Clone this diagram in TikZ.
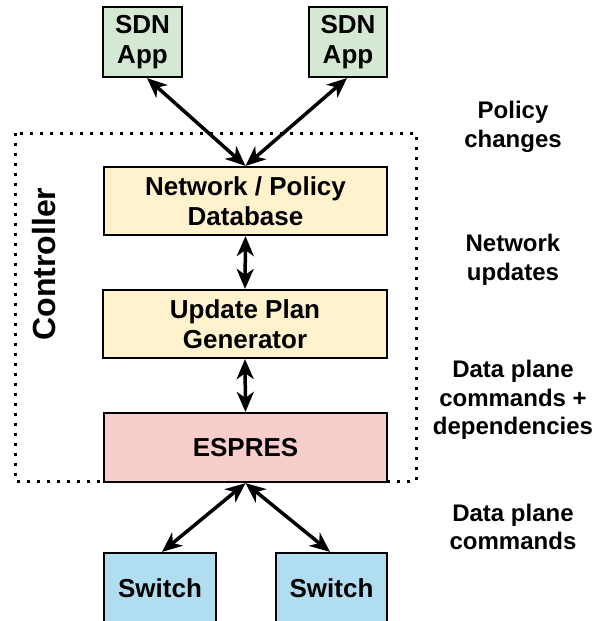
\documentclass[tikz,border=0pt]{standalone}
\usepackage{fontspec}
\setmainfont{Liberation Sans}
\usetikzlibrary{arrows.meta,calc}
\definecolor{gfill}{HTML}{D5E8D4}
\definecolor{yfill}{HTML}{FFF2CC}
\definecolor{rfill}{HTML}{F8CECC}
\definecolor{bfill}{HTML}{B1DDF0}
\begin{document}
\begin{tikzpicture}[x=1pt,y=-1pt,
  box/.style={draw=black, line width=2.2pt, inner sep=0pt, align=center,
    font=\bfseries\fontsize{26}{30}\selectfont},
  lbl/.style={inner sep=0pt, align=center, font=\bfseries\fontsize{24}{28.5}\selectfont},
  arr/.style={line width=3.5pt, {Stealth[length=20pt,width=17pt,inset=6pt]}-{Stealth[length=20pt,width=17pt,inset=6pt]}},
  ctrl/.style={draw=black, line width=3pt, dash pattern=on 3pt off 7pt}
]
\useasboundingbox (0,0) rectangle (592,621);

% dotted controller region
\draw[ctrl] (15,133) rectangle (416,481);

% nodes
\node[box, fill=gfill, minimum width=79pt, minimum height=70pt] (sdnL) at (142.5,42) {SDN\\App};
\node[box, fill=gfill, minimum width=78pt, minimum height=70pt] (sdnR) at (348,42) {SDN\\App};
\node[box, fill=yfill, minimum width=283pt, minimum height=68pt] (db) at (245.5,201) {Network / Policy\\Database};
\node[box, fill=yfill, minimum width=284pt, minimum height=68pt] (upg) at (245,324) {Update Plan\\Generator};
\node[box, fill=rfill, minimum width=283pt, minimum height=69pt] (esp) at (245.5,447.5) {ESPRES};
\node[box, fill=bfill, minimum width=112pt, minimum height=70pt] (swL) at (160,588) {Switch};
\node[box, fill=bfill, minimum width=111pt, minimum height=70pt] (swR) at (331.5,588) {Switch};

% controller label
\node[inner sep=0pt, rotate=90, font=\bfseries\fontsize{32}{36}\selectfont] (ctl) at (44,264) {Controller};

% right labels
\node[lbl] (l1) at (513,127) {Policy\\changes};
\node[lbl] (l2) at (513,260) {Network\\updates};
\node[lbl] (l3) at (513,400) {Data plane\\commands +\\dependencies};
\node[lbl] (l4) at (513,527) {Data plane\\commands};

% connectors
\draw[arr] ($(sdnL.south)+(4.5,0)$) -- (db.north);
\draw[arr] ($(sdnR.south)+(-1,0)$) -- (db.north);
\draw[arr] (db.south) -- (upg.north);
\draw[arr] (upg.south) -- (esp.north);
\draw[arr] (esp.south) -- ($(swL.north)+(2,0)$);
\draw[arr] (esp.south) -- ($(swR.north)+(-1.5,0)$);
\end{tikzpicture}
\end{document}
